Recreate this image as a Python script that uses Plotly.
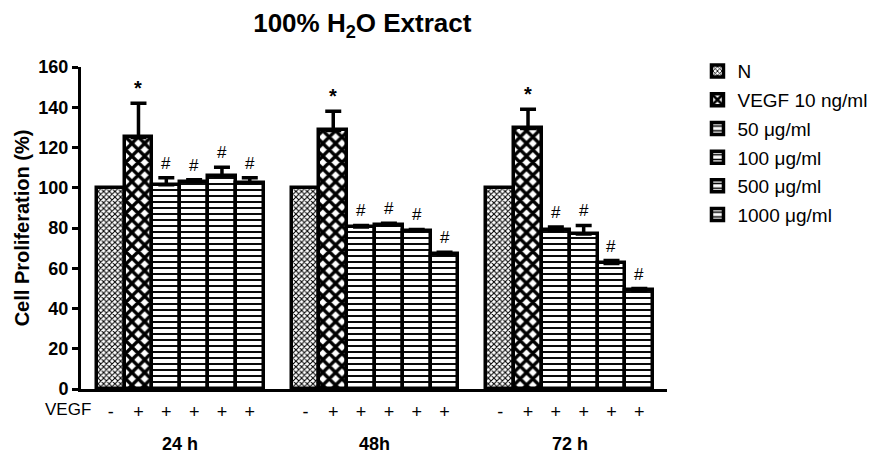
import plotly.graph_objects as go

# ---- data ----
groups = ["24 h", "48h", "72 h"]
series = ["N", "VEGF 10 ng/ml", "50 μg/ml", "100 μg/ml", "500 μg/ml", "1000 μg/ml"]
vegf_sign = ["-", "+", "+", "+", "+", "+"]
values = {
    "N":              [100.0, 100.0, 100.0],
    "VEGF 10 ng/ml":  [125.0, 128.5, 129.5],
    "50 μg/ml":       [101.5, 80.5, 78.8],
    "100 μg/ml":      [103.0, 81.5, 77.0],
    "500 μg/ml":      [106.0, 78.5, 62.4],
    "1000 μg/ml":     [102.5, 67.0, 49.0],
}
errors = {
    "N":              [0.0, 0.0, 0.0],
    "VEGF 10 ng/ml":  [17.0, 9.5, 9.5],
    "50 μg/ml":       [3.5, 0.8, 1.7],
    "100 μg/ml":      [1.0, 0.8, 4.3],
    "500 μg/ml":      [4.2, 0.8, 1.4],
    "1000 μg/ml":     [2.5, 1.0, 0.9],
}
marks = {
    "N": "",
    "VEGF 10 ng/ml": "*",
    "50 μg/ml": "#",
    "100 μg/ml": "#",
    "500 μg/ml": "#",
    "1000 μg/ml": "#",
}
y_ticks = [0, 20, 40, 60, 80, 100, 120, 140, 160]

# ---- styles ----
FONT = "Liberation Sans, Arial, sans-serif"
patterns = {
    "N": dict(shape="x", size=4, solidity=0.45),
    "VEGF 10 ng/ml": dict(shape="x", size=9, solidity=0.6),
}
stripe = dict(shape="-", size=6, solidity=0.32)
GROUP_STEP = len(series) + 1

fig = go.Figure()
annotations = []
for i, s in enumerate(series):
    xs = [g * GROUP_STEP + i for g in range(len(groups))]
    pat = patterns.get(s, stripe)
    fig.add_trace(go.Bar(
        x=xs, y=values[s], width=1, name=s, legendgroup=s,
        marker=dict(color="white",
                    line=dict(color="black", width=3.5),
                    pattern=dict(fgcolor="black", bgcolor="white", fillmode="replace", **pat)),
        error_y=dict(type="data", symmetric=False, array=errors[s],
                     arrayminus=[0] * len(groups),
                     visible=any(e > 0 for e in errors[s]),
                     color="black", thickness=3.5, width=8),
    ))
    if marks[s]:
        for x, v, e in zip(xs, values[s], errors[s]):
            annotations.append(dict(
                x=x, y=v + e, xref="x", yref="y",
                text=f"<b>{marks[s]}</b>" if marks[s] == "*" else marks[s],
                showarrow=False, yanchor="bottom", yshift=2 if marks[s] == "*" else 3,
                font=dict(family=FONT, size=20 if marks[s] == "*" else 17, color="black")))

tickvals = [g * GROUP_STEP + i for g in range(len(groups)) for i in range(len(series))]
ticktext = [vegf_sign[i] for g in range(len(groups)) for i in range(len(series))]

for g, name in enumerate(groups):
    annotations.append(dict(
        x=g * GROUP_STEP + (len(series) - 1) / 2, y=0, xref="x", yref="paper",
        text=f"<b>{name}</b>", showarrow=False, yanchor="top", yshift=-43,
        font=dict(family=FONT, size=18, color="black")))
annotations.append(dict(
    x=0.020, y=0, xref="paper", yref="paper", text="VEGF", showarrow=False,
    xanchor="right", yanchor="middle", yshift=-20,
    font=dict(family=FONT, size=17, color="black")))

fig.update_layout(
    width=888, height=454,
    margin=dict(l=64, r=229, t=59, b=73),
    paper_bgcolor="white", plot_bgcolor="white",
    barmode="overlay", bargap=0,
    title=dict(text="<b>100% H<sub>2</sub>O Extract</b>", x=0.399, xanchor="center",
               y=0.967, yanchor="middle",
               font=dict(family=FONT, size=26, color="black")),
    font=dict(family=FONT, color="black"),
    xaxis=dict(range=[-1.066, 19.995], tickvals=tickvals, ticktext=ticktext,
               showgrid=False, zeroline=False, showline=True, linecolor="black",
               linewidth=3, ticks="", ticklabelstandoff=4,
               tickfont=dict(family=FONT, size=18, color="black")),
    yaxis=dict(range=[0, 160], tickvals=y_ticks, showgrid=False, zeroline=False,
               showline=True, linecolor="black", linewidth=3, ticks="outside",
               ticklen=6, tickwidth=2.5, tickcolor="black",
               tickfont=dict(family=FONT, size=18, color="black", weight="bold"),
               title=dict(text="<b>Cell Proliferation (%)</b>", standoff=4,
                          font=dict(family=FONT, size=20, color="black"))),
    legend=dict(x=1.052, y=1.046, xanchor="left", yanchor="top",
                font=dict(family=FONT, size=19, color="black"),
                tracegroupgap=1, bgcolor="rgba(0,0,0,0)"),
    showlegend=True,
    annotations=annotations,
)

fig.write_html("out.html")
